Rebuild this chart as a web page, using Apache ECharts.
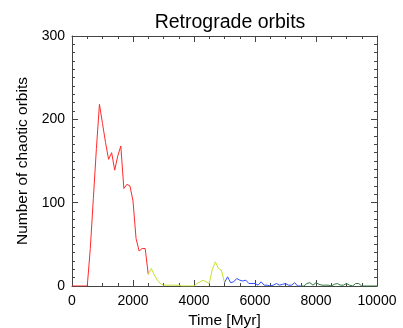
<!DOCTYPE html>
<html>
<head>
<meta charset="utf-8">
<script src="https://cdn.jsdelivr.net/npm/echarts@6/dist/echarts.min.js"></script>
<style>
html,body{margin:0;padding:0;background:#fff;}
#chart{width:403px;height:328px;}
</style>
</head>
<body>
<div id="chart"></div>
<script>
// Time [Myr] grids for each stage
const timeRed    = [0,100,200,300,400,500,600,700,800,900,1000,1100,1200,1300,1400,1500,1600,1700,1800,1900,2000,2100,2200,2300,2400,2500];
const valuesRed  = [0,0,0,0,0,0,45,105,165,218,195,172,152,160,139,156,168,117,122,120,102,57,42,45,45,14];

const timeYellow   = [2500,2600,2700,2800,2900,3000,3100,3200,3300,3400,3500,3600,3700,3800,3900,4000,4100,4200,4300,4400,4500,4600,4700,4800,4900,5000];
const valuesYellow = [14,21,13,7,3,1,1,1,1,1,1,0,0,0,0,0,3,5,7,5,3,20,29,21,19,4];

const timeBlue   = [5000,5100,5200,5300,5400,5500,5600,5700,5800,5900,6000,6100,6200,6300,6400,6500,6600,6700,6800,6900,7000,7100,7200,7300,7400,7500];
const valuesBlue = [4,11,4,5,9,7,6,7,3,3,3,1,5,1,1,0,1,3,1,2,3,1,1,4,0,0];

const timeGreen   = [7500,7600,7700,7800,7900,8000,8100,8200,8300,8400,8500,8600,8700,8800,8900,9000,9100,9200,9300,9400,9500,9600,9700,9800,9900,10000];
const valuesGreen = [0,0,3,4,1,4,2,1,1,1,0,2,3,1,1,3,1,0,3,3,0,0,0,0,0,0];

const titleText = 'Retrograde orbits';
const xName = 'Time [Myr]';
const yName = 'Number of chaotic orbits';

function pairs(t, v) { return t.map((x, i) => [x, v[i]]); }

const FONT = 'Liberation Sans';
const AX = '#444';

function mkX(pos, labels) {
  return {
    type: 'value', position: pos, min: 0, max: 10000, interval: 2000,
    name: labels ? xName : '', nameLocation: 'middle', nameGap: 23,
    nameTextStyle: {fontFamily: FONT, fontSize: 15.5, color: '#000'},
    axisLine: {show: true, onZero: false, lineStyle: {color: AX, width: 1}},
    axisTick: {show: true, inside: true, length: 6, lineStyle: {color: AX}},
    minorTick: {show: true, splitNumber: 4, length: 3, lineStyle: {color: AX}},
    axisLabel: {show: labels, margin: 8, fontFamily: FONT, fontSize: 14, color: '#000',
                formatter: v => String(v)},
    splitLine: {show: false}
  };
}
function mkY(pos, labels) {
  return {
    type: 'value', position: pos, min: 0, max: 300, interval: 100,
    name: labels ? yName : '', nameLocation: 'middle', nameGap: 41, nameRotate: 90,
    nameTextStyle: {fontFamily: FONT, fontSize: 15.5, color: '#000'},
    axisLine: {show: true, onZero: false, lineStyle: {color: AX, width: 1}},
    axisTick: {show: true, inside: true, length: 6, lineStyle: {color: AX}},
    minorTick: {show: true, splitNumber: 10, length: 3, lineStyle: {color: AX}},
    axisLabel: {show: labels, margin: 7, fontFamily: FONT, fontSize: 14, color: '#000',
                formatter: v => String(v)},
    splitLine: {show: false}
  };
}
function mkSeries(t, v, color) {
  return {
    type: 'line', data: pairs(t, v), xAxisIndex: 0, yAxisIndex: 0,
    showSymbol: false, symbol: 'none', animation: false,
    lineStyle: {color: color, width: 1}, itemStyle: {color: color}
  };
}

const chart = echarts.init(document.getElementById('chart'));
chart.setOption({
  animation: false,
  backgroundColor: '#fff',
  title: {
    text: titleText, left: 225, top: 8, textAlign: 'center',
    textStyle: {fontFamily: FONT, fontSize: 19.5, fontWeight: 'normal', color: '#000'}
  },
  grid: {left: 72, right: 26, top: 36, bottom: 42, outerBoundsMode: 'none', containLabel: false},
  xAxis: [mkX('bottom', true), mkX('top', false)],
  yAxis: [mkY('left', true), mkY('right', false)],
  series: [
    mkSeries(timeRed, valuesRed, '#ff2a2a'),
    mkSeries(timeYellow, valuesYellow, '#c8e02a'),
    mkSeries(timeBlue, valuesBlue, '#2f4dff'),
    mkSeries(timeGreen, valuesGreen, '#2e7d3a')
  ]
});
</script>
</body>
</html>
